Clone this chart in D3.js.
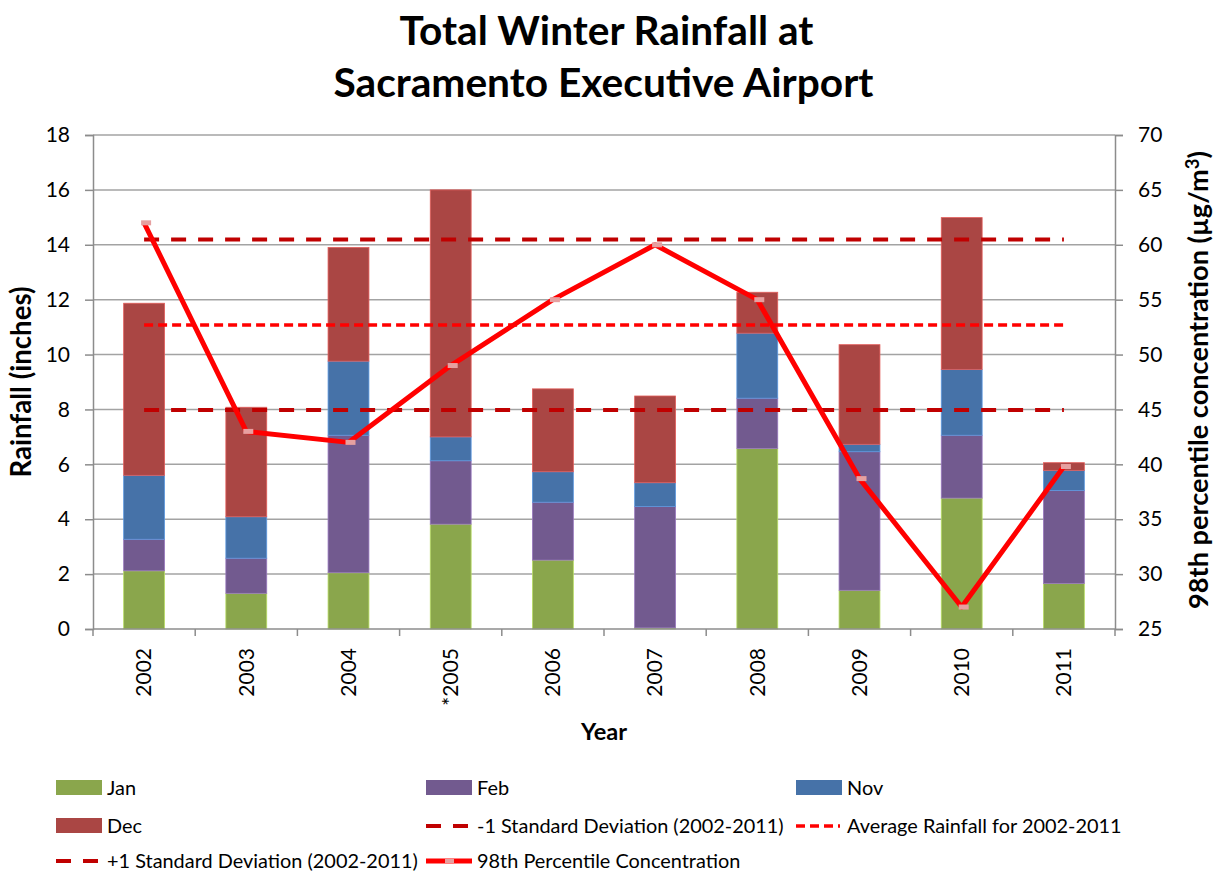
<!DOCTYPE html>
<html lang="en">
<head>
  <meta charset="UTF-8">
  <title>Total Winter Rainfall at Sacramento Executive Airport</title>
  <script src="https://d3js.org/d3.v7.min.js"></script>
  <style>
    body { margin: 0; background: #fff; }
    svg { font-family: Lato, "Open Sans", sans-serif; }
  </style>
</head>
<body>
  <div id="chart"></div>
  <script type="text/javascript">
    // data
    var years = ["2002", "2003", "2004", "*2005", "2006", "2007", "2008", "2009", "2010", "2011"];
    var jan = [2.12, 1.30, 2.05, 3.82, 2.51, 0.04, 6.58, 1.41, 4.77, 1.66];
    var feb = [1.15, 1.28, 5.01, 2.31, 2.11, 4.42, 1.83, 5.05, 2.29, 3.39];
    var nov = [2.33, 1.51, 2.70, 0.87, 1.11, 0.87, 2.37, 0.27, 2.40, 0.73];
    var dec = [6.27, 3.99, 4.14, 9.00, 3.02, 3.16, 1.49, 3.63, 5.53, 0.28];
    var pm98 = [62.0, 43.0, 42.0, 49.0, 55.0, 60.0, 55.0, 38.7, 27.0, 39.8];
    var avgRain = 11.08, sdPlus = 14.19, sdMinus = 7.98;
    var leftTicks = [0, 2, 4, 6, 8, 10, 12, 14, 16, 18];
    var rightTicks = [25, 30, 35, 40, 45, 50, 55, 60, 65, 70];

    var W = 1217, H = 871;
    var m = {top: 135, right: 102, bottom: 242, left: 93};

    var svg = d3.select("#chart").append("svg")
      .attr("width", W).attr("height", H);

    // scale a text's font so its width matches the width seen in the picture
    function fitWidth(sel, target) {
      var len = sel.node().getComputedTextLength();
      var fs = parseFloat(sel.attr("font-size"));
      sel.attr("font-size", (fs * target / len).toFixed(2));
      return fs * target / len;
    }

    var x = d3.scaleBand().domain(years).range([m.left, W - m.right])
      .paddingInner(0.6).paddingOuter(0.3);
    var y = d3.scaleLinear().domain([0, 18]).range([H - m.bottom, m.top]);
    var y2 = d3.scaleLinear().domain([25, 70]).range([H - m.bottom, m.top]);
    var cx = function (d) { return x(d) + x.bandwidth() / 2; };

    // gridlines
    svg.append("g").selectAll("line").data(leftTicks.slice(1)).enter().append("line")
      .attr("x1", m.left).attr("x2", W - m.right)
      .attr("y1", function (d) { return y(d); }).attr("y2", function (d) { return y(d); })
      .attr("stroke", "#a3a3a3").attr("stroke-width", 1.5);

    // stacked bars
    var rows = years.map(function (yr, i) {
      return {year: yr, Jan: jan[i], Feb: feb[i], Nov: nov[i], Dec: dec[i]};
    });
    var keys = ["Jan", "Feb", "Nov", "Dec"];
    var colors = {Jan: "#8aa64c", Feb: "#725a8f", Nov: "#4672a8", Dec: "#aa4644"};
    var stack = d3.stack().keys(keys)(rows);

    svg.append("g").selectAll("g").data(stack).enter().append("g")
      .attr("fill", function (s) { return colors[s.key]; })
      .attr("stroke", function (s) { return d3.color(colors[s.key]).brighter(0.8); })
      .attr("stroke-width", 0.8)
      .selectAll("rect").data(function (s) { return s; }).enter().append("rect")
        .attr("x", function (d) { return x(d.data.year); })
        .attr("width", x.bandwidth())
        .attr("y", function (d) { return y(d[1]); })
        .attr("height", function (d) { return y(d[0]) - y(d[1]); });

    // axes
    var axL = svg.append("g").attr("transform", "translate(" + m.left + ",0)")
      .call(d3.axisLeft(y).tickValues(leftTicks).tickSize(8).tickPadding(15));
    var axR = svg.append("g").attr("transform", "translate(" + (W - m.right) + ",0)")
      .call(d3.axisRight(y2).tickValues(rightTicks).tickSize(8).tickPadding(15));
    [axL, axR].forEach(function (a) {
      a.select(".domain").attr("stroke", "#8c8c8c").attr("stroke-width", 1.5);
      a.selectAll(".tick line").attr("stroke", "#8c8c8c").attr("stroke-width", 1.5);
      a.selectAll("text").attr("font-size", 21).attr("fill", "#000")
        .attr("font-family", "Lato, sans-serif");
    });

    // x axis with ticks at category boundaries
    var xAx = svg.append("g");
    xAx.append("line")
      .attr("x1", m.left).attr("x2", W - m.right)
      .attr("y1", y(0)).attr("y2", y(0))
      .attr("stroke", "#8c8c8c").attr("stroke-width", 1.5);
    var bounds = years.map(function (d) { return x(d) - x.step() * x.paddingInner() / 2; })
      .concat([W - m.right]);
    xAx.selectAll("line.tk").data(bounds).enter().append("line")
      .attr("class", "tk")
      .attr("x1", function (d) { return d; }).attr("x2", function (d) { return d; })
      .attr("y1", y(0)).attr("y2", y(0) + 7)
      .attr("stroke", "#8c8c8c").attr("stroke-width", 1.5);
    xAx.selectAll("text").data(years).enter().append("text")
      .attr("transform", function (d) { return "translate(" + cx(d) + "," + (y(0) + 19) + ") rotate(-90)"; })
      .attr("text-anchor", "end").attr("dy", "0.35em")
      .attr("font-size", 21)
      .text(function (d) { return d; });

    // reference lines
    var x0 = cx(years[0]), x1 = cx(years[years.length - 1]);
    var refLines = [
      {v: sdPlus, color: "#c00000", w: 4, dash: "15,12"},
      {v: avgRain, color: "#ff0000", w: 3.5, dash: "9,5"},
      {v: sdMinus, color: "#c00000", w: 4, dash: "15,12"}
    ];
    svg.append("g").selectAll("line").data(refLines).enter().append("line")
      .attr("x1", x0).attr("x2", x1)
      .attr("y1", function (d) { return y(d.v); }).attr("y2", function (d) { return y(d.v); })
      .attr("stroke", function (d) { return d.color; })
      .attr("stroke-width", function (d) { return d.w; })
      .attr("stroke-dasharray", function (d) { return d.dash; });

    // 98th percentile line
    var line = d3.line()
      .x(function (d, i) { return cx(years[i]); })
      .y(function (d) { return y2(d); });
    svg.append("path").datum(pm98)
      .attr("d", line).attr("fill", "none")
      .attr("stroke", "#ff0000").attr("stroke-width", 5)
      .attr("stroke-linejoin", "round");
    svg.append("g").selectAll("rect").data(pm98).enter().append("rect")
      .attr("x", function (d, i) { return cx(years[i]) - 3; })
      .attr("y", function (d) { return y2(d) - 2.5; })
      .attr("width", 10).attr("height", 5)
      .attr("fill", "#e6a0a0");

    // titles
    var t1 = svg.append("text").attr("x", W / 2 - 2).attr("y", 45).attr("text-anchor", "middle")
      .attr("font-size", 36).attr("font-weight", "bold").text("Total Winter Rainfall at");
    fitWidth(t1, 414);
    var t2 = svg.append("text").attr("x", W / 2 - 5).attr("y", 97).attr("text-anchor", "middle")
      .attr("font-size", 36).attr("font-weight", "bold").text("Sacramento Executive Airport");
    fitWidth(t2, 540);

    var lt = svg.append("text").attr("transform", "translate(31,382) rotate(-90)")
      .attr("text-anchor", "middle").attr("font-size", 22).attr("font-weight", "bold")
      .text("Rainfall (inches)");
    fitWidth(lt, 191);
    var rt = svg.append("text").attr("transform", "translate(1208,380) rotate(-90)")
      .attr("text-anchor", "middle").attr("font-size", 22).attr("font-weight", "bold");
    rt.append("tspan").text("98th percentile concentration (µg/m");
    rt.append("tspan").attr("dy", -9).attr("font-size", "0.68em").text("3");
    rt.append("tspan").attr("dy", 9).text(")");
    fitWidth(rt, 458);

    var yt = svg.append("text").attr("x", 604).attr("y", 740).attr("text-anchor", "middle")
      .attr("font-size", 21).attr("font-weight", "bold").text("Year");
    fitWidth(yt, 46);

    // legend
    var legendItems = [
      {name: "Jan", type: "box", color: colors.Jan},
      {name: "Feb", type: "box", color: colors.Feb},
      {name: "Nov", type: "box", color: colors.Nov},
      {name: "Dec", type: "box", color: colors.Dec},
      {name: "-1 Standard Deviation (2002-2011)", type: "dash", ref: refLines[2]},
      {name: "Average Rainfall for 2002-2011", type: "dash", ref: refLines[1]},
      {name: "+1 Standard Deviation (2002-2011)", type: "dash", ref: refLines[0]},
      {name: "98th Percentile Concentration", type: "line"}
    ];
    var colX = [56, 426, 796], rowY = [788, 826, 861];
    var lg = svg.append("g").selectAll("g").data(legendItems).enter().append("g")
      .attr("transform", function (d, i) { return "translate(" + colX[i % 3] + "," + rowY[Math.floor(i / 3)] + ")"; });
    lg.each(function (d) {
      var g = d3.select(this);
      if (d.type === "box") {
        g.append("rect").attr("x", 0).attr("y", -8).attr("width", 46).attr("height", 15).attr("fill", d.color);
      } else if (d.type === "dash") {
        g.append("line").attr("x1", 0).attr("x2", 44).attr("y1", 0).attr("y2", 0)
          .attr("stroke", d.ref.color).attr("stroke-width", d.ref.w)
          .attr("stroke-dasharray", d.ref.dash);
      } else {
        g.append("line").attr("x1", 0).attr("x2", 46).attr("y1", 0).attr("y2", 0)
          .attr("stroke", "#ff0000").attr("stroke-width", 5);
        g.append("rect").attr("x", 19).attr("y", -2).attr("width", 9).attr("height", 4).attr("fill", "#e6a0a0");
      }
      g.append("text").attr("x", 51).attr("dy", "0.35em").attr("font-size", 18).text(d.name);
    });
    // one size for all legend labels, fitted on the longest one
    var longest = lg.filter(function (d, i) { return i === 6; }).select("text");
    var lfs = fitWidth(longest, 311);
    lg.selectAll("text").attr("font-size", lfs.toFixed(2));
  </script>
</body>
</html>
